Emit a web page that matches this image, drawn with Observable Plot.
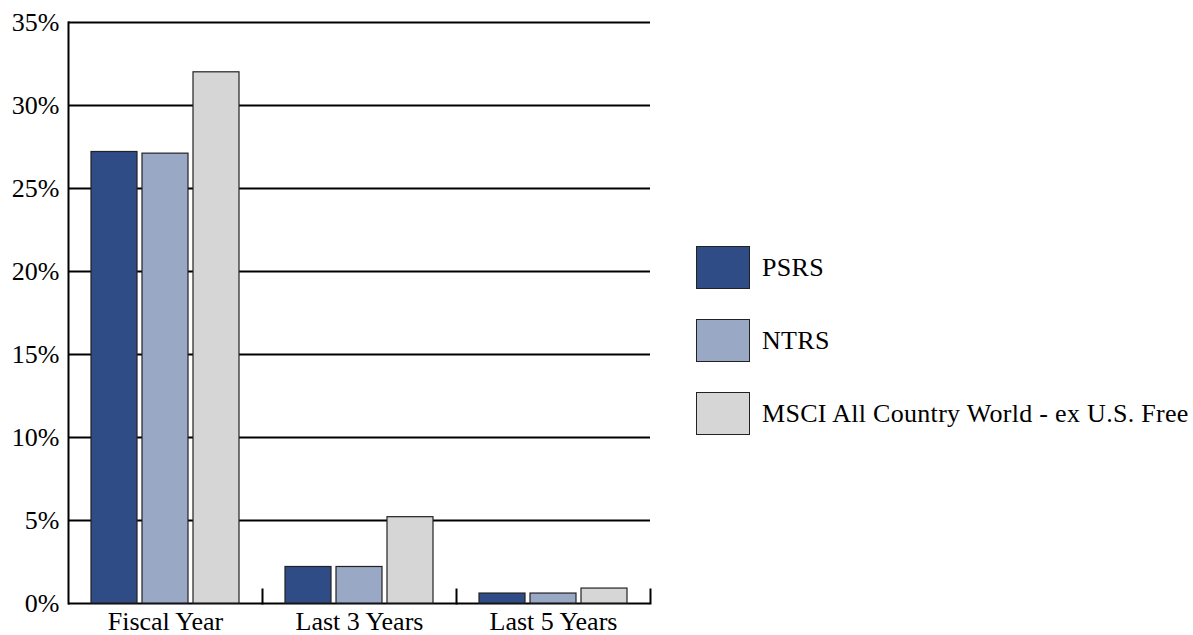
<!DOCTYPE html>
<html>
<head>
<meta charset="utf-8">
<script src="https://cdn.jsdelivr.net/npm/d3@7"></script>
<script src="https://cdn.jsdelivr.net/npm/@observablehq/plot@0.6"></script>
<style>
  html, body { margin: 0; padding: 0; background: #fff; }
  #wrap { position: relative; width: 1193px; height: 635px; font-family: "Liberation Serif", "Times New Roman", serif; }
  #legend { position: absolute; left: 696px; top: 246px; }
  .item { display: flex; align-items: center; height: 43px; margin-bottom: 30px; }
  .sw { width: 52px; height: 41px; border: 1.5px solid #222; box-sizing: content-box; }
  .lab { margin-left: 12px; font-size: 26px; letter-spacing: 0.3px; color: #000; white-space: nowrap; }
</style>
</head>
<body>
<div id="wrap"><div id="chart"></div><div id="legend"></div></div>
<script>
const categories = ["Fiscal Year", "Last 3 Years", "Last 5 Years"];
const series = ["PSRS", "NTRS", "MSCI All Country World - ex U.S. Free"];
const colors = ["#2f4c87", "#99a8c5", "#d6d6d6"];
const psrs = [27.2, 2.2, 0.6];
const ntrs = [27.1, 2.2, 0.6];
const msci = [32.0, 5.2, 0.9];
const yTicks = [0, 5, 10, 15, 20, 25, 30, 35];

const valuesBySeries = [psrs, ntrs, msci];
const data = [];
categories.forEach((c, i) => {
  series.forEach((s, k) => data.push({category: c, series: s, value: valuesBySeries[k][i]}));
});

const chart = Plot.plot({
  width: 1193,
  height: 635,
  marginLeft: 68,
  marginRight: 543,
  marginTop: 22,
  marginBottom: 32,
  style: {fontFamily: "'Liberation Serif', 'Times New Roman', serif", fontSize: "26px", color: "#000", background: "#fff", overflow: "visible"},
  fx: {domain: categories, padding: 0, label: null},
  x: {domain: series, paddingInner: 0.107, paddingOuter: 0.437, axis: null},
  y: {domain: [0, 35], axis: null},
  color: {domain: series, range: colors},
  marks: [
    Plot.ruleY(yTicks, {stroke: "#000", strokeWidth: 2}),
    Plot.barY(data, {fx: "category", x: "series", y: "value", fill: "series", stroke: "#222", strokeWidth: 1.2}),
    Plot.frame({anchor: "left", facetAnchor: "left", stroke: "#000", strokeWidth: 2}),
    Plot.frame({anchor: "right", insetTop: 567, stroke: "#000", strokeWidth: 2}),
    Plot.axisY(yTicks, {anchor: "left", tickSize: 0, tickPadding: 9, tickFormat: d => d + "%", label: null, fontSize: 26}),
    Plot.axisFx({anchor: "bottom", tickSize: 0, tickPadding: 8, label: null, fontSize: 26})
  ]
});
document.getElementById("chart").appendChild(chart);

const legend = document.getElementById("legend");
series.forEach((s, k) => {
  const item = document.createElement("div");
  item.className = "item";
  const sw = document.createElement("div");
  sw.className = "sw";
  sw.style.background = colors[k];
  const lab = document.createElement("div");
  lab.className = "lab";
  lab.textContent = s;
  item.appendChild(sw);
  item.appendChild(lab);
  legend.appendChild(item);
});
</script>
</body>
</html>
